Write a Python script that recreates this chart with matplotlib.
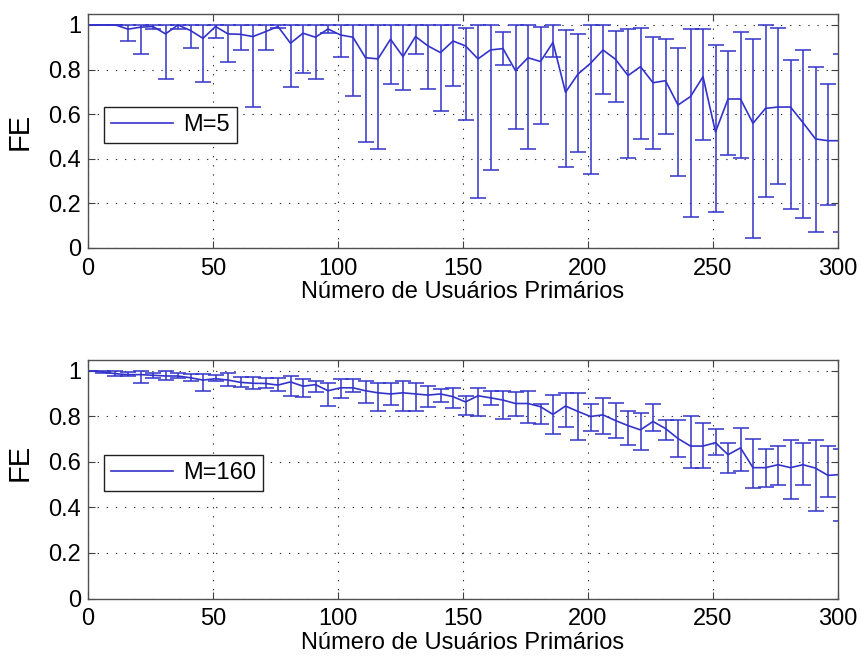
import numpy as np
import matplotlib
matplotlib.use("Agg")
import matplotlib.pyplot as plt
from matplotlib.lines import Line2D
from matplotlib.ticker import FixedLocator, FuncFormatter

plt.rcParams['font.family'] = ['Liberation Sans', 'DejaVu Sans']

# Number of primary users
x_users = np.arange(1, 302, 5)

# M = 5: mean FE with lower / upper bounds of the error bars
fe_m5 = [1.0, 1.0, 1.0, 0.981, 0.99, 0.993, 0.96, 1.0, 0.975, 0.94,
         0.993, 0.96, 0.958, 0.948, 0.97, 0.993, 0.918, 0.963, 0.945, 0.982,
         0.955, 0.945, 0.853, 0.848, 0.936, 0.858, 0.948, 0.906, 0.876, 0.928,
         0.906, 0.848, 0.888, 0.894, 0.795, 0.853, 0.836, 0.922, 0.698, 0.78,
         0.828, 0.888, 0.846, 0.773, 0.813, 0.741, 0.75, 0.641, 0.679, 0.768,
         0.52, 0.668, 0.668, 0.559, 0.626, 0.632, 0.632, 0.562, 0.489, 0.481,
         0.481]
lo_m5 = [1.0, 1.0, 1.0, 0.928, 0.87, 0.982, 0.758, 0.982, 0.895, 0.743,
         0.94, 0.833, 0.888, 0.63, 0.888, 0.985, 0.72, 0.786, 0.758, 0.963,
         0.855, 0.68, 0.474, 0.445, 0.735, 0.709, 0.868, 0.715, 0.613, 0.728,
         0.572, 0.224, 0.348, 0.82, 0.535, 0.445, 0.555, 0.855, 0.362, 0.432,
         0.33, 0.689, 0.656, 0.405, 0.489, 0.445, 0.51, 0.323, 0.14, 0.483,
         0.161, 0.419, 0.405, 0.043, 0.23, 0.288, 0.175, 0.133, 0.072, 0.193,
         0.073]
hi_m5 = [1.0, 1.0, 1.0, 1.0, 1.0, 1.0, 1.0, 1.0, 1.0, 1.0,
         1.0, 1.0, 1.0, 1.0, 1.0, 1.0, 1.0, 1.0, 1.0, 1.0,
         1.0, 1.0, 1.0, 1.0, 1.0, 1.0, 1.0, 1.0, 1.0, 1.0,
         0.985, 1.0, 1.0, 0.97, 1.0, 1.0, 0.99, 1.0, 0.978, 0.958,
         1.0, 1.0, 0.973, 0.98, 0.985, 0.945, 0.939, 0.895, 0.98, 0.98,
         0.91, 0.882, 0.967, 0.939, 1.0, 0.985, 0.842, 0.888, 0.81, 0.734,
         0.87]

# M = 160
fe_m160 = [1.0, 0.996, 0.988, 0.984, 0.984, 0.981, 0.978, 0.978, 0.97, 0.96,
           0.966, 0.96, 0.95, 0.946, 0.945, 0.938, 0.952, 0.933, 0.94, 0.913,
           0.926, 0.926, 0.913, 0.904, 0.899, 0.904, 0.899, 0.894, 0.899, 0.887,
           0.864, 0.891, 0.882, 0.872, 0.857, 0.857, 0.843, 0.809, 0.846, 0.822,
           0.8, 0.807, 0.782, 0.76, 0.741, 0.778, 0.747, 0.703, 0.67, 0.67,
           0.685, 0.632, 0.662, 0.575, 0.575, 0.588, 0.575, 0.588, 0.573, 0.541,
           0.545]
lo_m160 = [1.0, 0.99, 0.98, 0.978, 0.948, 0.97, 0.96, 0.967, 0.955, 0.91,
           0.955, 0.934, 0.93, 0.92, 0.926, 0.912, 0.891, 0.884, 0.909, 0.848,
           0.88, 0.909, 0.858, 0.822, 0.851, 0.822, 0.825, 0.841, 0.865, 0.839,
           0.807, 0.804, 0.849, 0.787, 0.8, 0.772, 0.767, 0.725, 0.752, 0.697,
           0.737, 0.725, 0.704, 0.675, 0.651, 0.734, 0.697, 0.623, 0.575, 0.575,
           0.631, 0.55, 0.561, 0.486, 0.49, 0.498, 0.439, 0.498, 0.386, 0.447,
           0.339]
hi_m160 = [1.0, 1.0, 1.0, 0.995, 1.0, 0.992, 1.0, 0.99, 0.987, 0.987,
           0.984, 0.992, 0.975, 0.975, 0.967, 0.97, 0.978, 0.964, 0.955, 0.949,
           0.964, 0.964, 0.957, 0.949, 0.949, 0.957, 0.949, 0.933, 0.919, 0.927,
           0.89, 0.927, 0.913, 0.913, 0.906, 0.913, 0.854, 0.894, 0.904, 0.904,
           0.854, 0.882, 0.861, 0.822, 0.815, 0.854, 0.785, 0.785, 0.8, 0.77,
           0.744, 0.685, 0.751, 0.703, 0.656, 0.67, 0.695, 0.685, 0.695, 0.67,
           0.659]

x_ticks = [0, 50, 100, 150, 200, 250, 300]
y_ticks = [0, 0.2, 0.4, 0.6, 0.8, 1.0]
x_label = "Número de Usuários Primários"
y_label = "FE"

LINE_COLOR = '#3333cc'
W, H = 862, 664
fig = plt.figure(figsize=(W / 100, H / 100), dpi=100)


def axes_rect(left, top, right, bottom):
    return [left / W, 1 - bottom / H, (right - left) / W, (bottom - top) / H]


panels = [
    (axes_rect(88, 13.8, 838, 248), fe_m5, lo_m5, hi_m5, "M=5", 0.5),
    (axes_rect(88, 359.6, 838, 598.5), fe_m160, lo_m160, hi_m160, "M=160", 0.57),
]

for rect, mean, lo, hi, name, ylab_y in panels:
    ax = fig.add_axes(rect)
    mean = np.asarray(mean)
    yerr = [mean - np.asarray(lo), np.asarray(hi) - mean]
    ax.errorbar(x_users, mean, yerr=yerr, color=LINE_COLOR, lw=1.2,
                elinewidth=1.1, capsize=5.6, capthick=1.1)
    ax.set_xlim(0, 300)
    ax.set_ylim(0, 1.05)
    ax.xaxis.set_major_locator(FixedLocator(x_ticks))
    ax.yaxis.set_major_locator(FixedLocator(y_ticks))
    ax.yaxis.set_major_formatter(FuncFormatter(lambda v, p: f"{v:g}"))
    ax.tick_params(direction='in', length=5, width=0.8, labelsize=17,
                   top=True, right=True, color='#404040')
    ax.tick_params(axis='y', pad=5)
    ax.tick_params(axis='x', pad=7)
    ax.grid(True, color='#303030', linestyle=(0, (1.2, 7)), lw=0.8)
    for sp in ax.spines.values():
        sp.set_color('#505050')
        sp.set_linewidth(1.0)
    ax.set_xlabel(x_label, fontsize=17, labelpad=1)
    ax.set_ylabel(y_label, fontsize=21)
    ax.yaxis.set_label_coords(-0.073, ylab_y)
    handle = Line2D([], [], color=LINE_COLOR, lw=1.2)
    leg = ax.legend([handle], [name], loc='upper left',
                    bbox_to_anchor=(0.0217, 0.601),
                    borderaxespad=0, fontsize=17, handlelength=2.6,
                    handletextpad=0.45, borderpad=0.3, fancybox=False,
                    framealpha=1, edgecolor='#202020')
    leg.get_frame().set_linewidth(1.0)

fig.savefig("out.png", dpi=100)
